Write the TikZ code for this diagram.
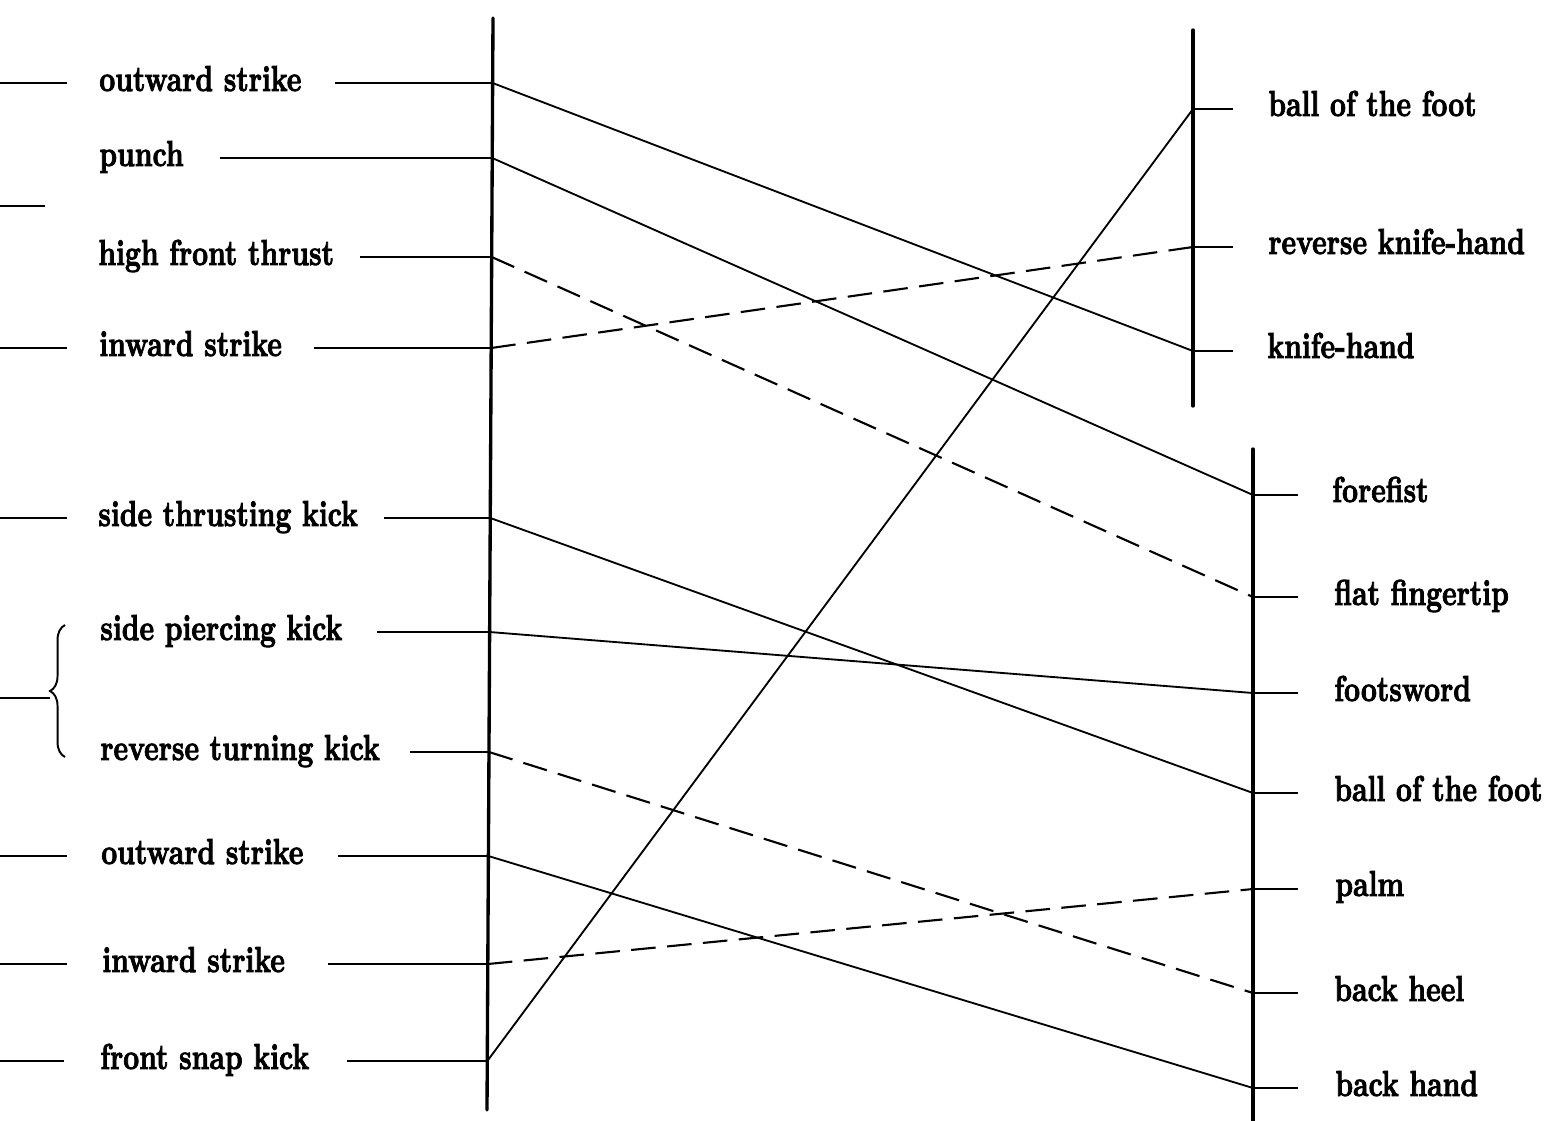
\documentclass[tikz,border=0pt]{standalone}
\usepackage{graphicx}
\usepackage{fontspec}
\newfontfamily\lblfont{lmroman10-bold}[Extension=.otf, FakeBold=2.5]
\usetikzlibrary{decorations.pathreplacing}
\newcommand{\tx}[1]{\scalebox{1}[1.3]{#1}}
\tikzset{
  lbl/.style={anchor=base west, inner sep=0pt, font=\lblfont\fontsize{15.8}{19}\selectfont},
  axis/.style={line width=1.9pt, line cap=round},
  tick/.style={line width=1.2pt},
  stub/.style={line width=1pt},
  link/.style={line width=1.05pt},
  dlink/.style={line width=1.2pt, dash pattern=on 14pt off 6.5pt},
}
\begin{document}
\begin{tikzpicture}[x=0.02cm, y=-0.02cm]
\useasboundingbox (0,0) rectangle (1550,1120);

% axes
\draw[axis] (493,18) -- (487,1110);
\draw[axis] (1193,30) -- (1193,406);
\draw[axis] (1253,449) -- (1253,1125);

% left labels
\node[lbl] (l1) at (99,91) {\tx{outward strike}};
\node[lbl] (l2) at (99,166) {\tx{punch}};
\node[lbl] (l3) at (98,265) {\tx{high front thrust}};
\node[lbl] (l4) at (99,356) {\tx{inward strike}};
\node[lbl] (l5) at (98,526) {\tx{side thrusting kick}};
\node[lbl] (l6) at (100,640) {\tx{side piercing kick}};
\node[lbl] (l7) at (100,760) {\tx{reverse turning kick}};
\node[lbl] (l8) at (101,864) {\tx{outward strike}};
\node[lbl] (l9) at (102,972) {\tx{inward strike}};
\node[lbl] (l10) at (100,1069) {\tx{front snap kick}};

% right labels
\node[lbl] (r1) at (1268,116) {\tx{ball of the foot}};
\node[lbl] (r2) at (1268,254) {\tx{reverse knife-hand}};
\node[lbl] (r3) at (1267,358) {\tx{knife-hand}};
\node[lbl] (r4) at (1332,502) {\tx{forefist}};
\node[lbl] (r5) at (1334,605) {\tx{flat fingertip}};
\node[lbl] (r6) at (1334,701) {\tx{footsword}};
\node[lbl] (r7) at (1334,801) {\tx{ball of the foot}};
\node[lbl] (r8) at (1335,896) {\tx{palm}};
\node[lbl] (r9) at (1334,1001) {\tx{back heel}};
\node[lbl] (r10) at (1335,1096) {\tx{back hand}};

% left stubs
\coordinate (e1) at (0,83);   \coordinate (f1) at (67,83);
\coordinate (e2) at (0,206);  \coordinate (f2) at (45,206);
\coordinate (e3) at (0,348);  \coordinate (f3) at (67,348);
\coordinate (e4) at (0,518);  \coordinate (f4) at (67,518);
\coordinate (e5) at (0,698);  \coordinate (f5) at (50,698);
\coordinate (e6) at (0,856);  \coordinate (f6) at (67,856);
\coordinate (e7) at (0,964);  \coordinate (f7) at (67,964);
\coordinate (e8) at (0,1061); \coordinate (f8) at (64,1061);
\draw[stub] (e1) -- (f1);
\draw[stub, line width=1.5pt] (e2) -- (f2);
\draw[stub] (e3) -- (f3);
\draw[stub] (e4) -- (f4);
\draw[stub] (e5) -- (f5);
\draw[stub] (e6) -- (f6);
\draw[stub] (e7) -- (f7);
\draw[stub] (e8) -- (f8);

% brace
\coordinate (bb) at (65,757);
\coordinate (bt) at (65,625);
\draw[line width=1.1pt, decorate, decoration={brace, amplitude=8.5pt}] (bb) -- (bt);

% left line starts and axis points
\coordinate (s1) at (335,83);   \coordinate (a1) at (492.6,83);
\coordinate (s2) at (220,158);  \coordinate (a2) at (492.2,158);
\coordinate (s3) at (360,257);  \coordinate (a3) at (491.7,257);
\coordinate (s4) at (314,348);  \coordinate (a4) at (491.2,348);
\coordinate (s5) at (384,518);  \coordinate (a5) at (490.3,518);
\coordinate (s6) at (377,632);  \coordinate (a6) at (489.6,632);
\coordinate (s7) at (410,752);  \coordinate (a7) at (489.0,752);
\coordinate (s8) at (338,856);  \coordinate (a8) at (488.4,856);
\coordinate (s9) at (328,964);  \coordinate (a9) at (487.8,964);
\coordinate (s10) at (347,1061); \coordinate (a10) at (487.3,1061);
\foreach \i in {1,...,10} {\draw[tick] (s\i) -- (a\i);}

% right axis points and ticks
\coordinate (b1) at (1193,109); \coordinate (c1) at (1233,109);
\coordinate (b2) at (1193,247); \coordinate (c2) at (1233,247);
\coordinate (b3) at (1193,351); \coordinate (c3) at (1233,351);
\coordinate (b4) at (1253,495); \coordinate (c4) at (1298,495);
\coordinate (b5) at (1253,597); \coordinate (c5) at (1298,597);
\coordinate (b6) at (1253,693); \coordinate (c6) at (1298,693);
\coordinate (b7) at (1253,793); \coordinate (c7) at (1298,793);
\coordinate (b8) at (1253,889); \coordinate (c8) at (1298,889);
\coordinate (b9) at (1253,993); \coordinate (c9) at (1298,993);
\coordinate (b10) at (1253,1088); \coordinate (c10) at (1298,1088);
\foreach \i in {1,...,10} {\draw[tick] (b\i) -- (c\i);}

% connectors
\draw[link] (a1) -- (b3);
\draw[link] (a2) -- (b4);
\draw[dlink] (a3) -- (b5);
\draw[dlink] (a4) -- (b2);
\draw[link] (a5) -- (b7);
\draw[link] (a6) -- (b6);
\draw[dlink] (a7) -- (b9);
\draw[link] (a8) -- (b10);
\draw[dlink] (a9) -- (b8);
\draw[link] (a10) -- (b1);
\end{tikzpicture}
\end{document}
